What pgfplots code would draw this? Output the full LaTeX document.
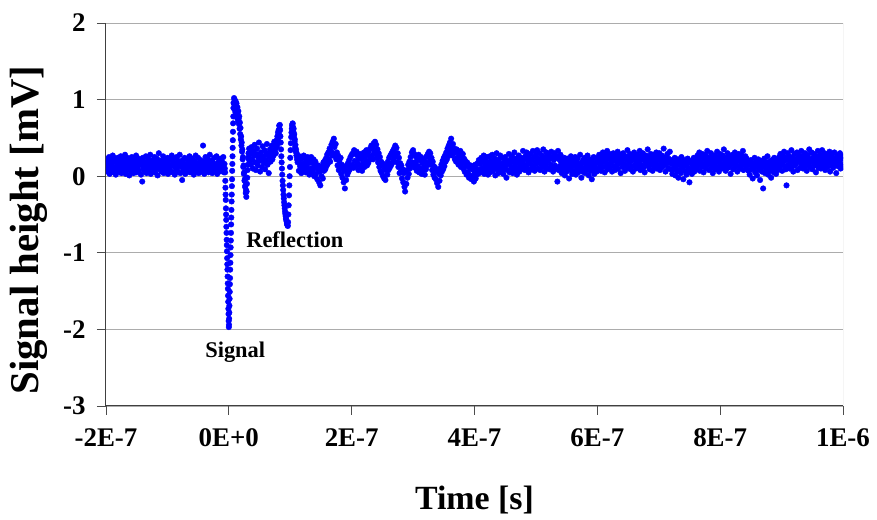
\documentclass[border=0pt]{standalone}
\usepackage{fontspec}
\setmainfont{Liberation Serif}
\usepackage{pgfplots}
\pgfplotsset{compat=1.18}
\begin{document}
\begin{tikzpicture}
\begin{axis}[
  scale only axis, width=737bp, height=383bp,
  xmin=-200, xmax=1000, ymin=-3, ymax=2,
  axis x line*=bottom, axis y line*=left,
  xtick={-200,0,200,400,600,800,1000},
  xticklabels={-2E-7,0E+0,2E-7,4E-7,6E-7,8E-7,1E-6},
  ytick={-3,-2,-1,0,1,2},
  yticklabels={-3,-2,-1,0,1,2},
  tick align=outside, major tick length=9bp,
  tick style={black!70, line width=0.8bp},
  axis line style={black!75, line width=1bp},
  ymajorgrids, major grid style={gray!65, line width=0.8bp},
  ticklabel style={font=\fontsize{27}{32}\selectfont\bfseries},
  xticklabel style={yshift=-10bp},
  yticklabel style={xshift=-8bp},
  /pgf/number format/assume math mode=true,
  clip marker paths=true,
]
\draw[gray!65, line width=0.8bp] (rel axis cs:1,0) -- (rel axis cs:1,1);
\addplot[only marks, mark=*, mark size=2.8bp, blue, mark options={draw=none, fill=blue}] table[row sep=\\] {
x y\\
-200 0.15\\-199 0.22\\-198 0.06\\-197 0.18\\-196 0.10\\-195 0.25\\-194 0.03\\-193 0.16\\-192 0.21\\-191 0.08\\
-190 0.13\\-189 0.27\\-188 0.05\\-187 0.19\\-186 0.11\\-185 0.23\\-184 0.02\\-183 0.17\\-182 0.09\\-181 0.24\\
-180 0.14\\-179 0.06\\-178 0.20\\-177 0.12\\-176 0.26\\-175 0.04\\-174 0.18\\-173 0.10\\-172 0.22\\-171 0.07\\
-170 0.15\\-169 0.28\\-168 0.03\\-167 0.19\\-166 0.12\\-165 0.24\\-164 0.08\\-163 0.16\\-162 0.01\\-161 0.21\\
-160 0.13\\-159 0.06\\-158 0.25\\-157 0.11\\-156 0.17\\-155 0.04\\-154 0.22\\-153 0.14\\-152 0.09\\-151 0.27\\
-150 0.05\\-149 0.18\\-148 0.12\\-147 0.23\\-146 0.07\\-145 0.15\\-144 0.20\\-143 0.02\\-142 0.16\\-141 -0.07\\
-140 0.24\\-139 0.10\\-138 0.19\\-137 0.06\\-136 0.13\\-135 0.26\\-134 0.04\\-133 0.17\\-132 0.11\\-131 0.22\\
-130 0.08\\-129 0.15\\-128 0.28\\-127 0.03\\-126 0.18\\-125 0.12\\-124 0.21\\-123 0.07\\-122 0.14\\-121 0.25\\
-120 0.05\\-119 0.19\\-118 0.10\\-117 0.23\\-116 0.01\\-115 0.16\\-114 0.30\\-113 0.09\\-112 0.13\\-111 0.20\\
-110 0.06\\-109 0.17\\-108 0.11\\-107 0.26\\-106 0.04\\-105 0.15\\-104 0.21\\-103 0.08\\-102 0.18\\-101 0.12\\
-100 0.24\\-99 0.03\\-98 0.16\\-97 0.10\\-96 0.22\\-95 0.07\\-94 0.14\\-93 0.27\\-92 0.05\\-91 0.19\\
-90 0.13\\-89 0.23\\-88 0.02\\-87 0.17\\-86 0.09\\-85 0.25\\-84 0.11\\-83 0.06\\-82 0.20\\-81 0.14\\
-80 0.28\\-79 0.04\\-78 0.18\\-77 0.12\\-76 -0.05\\-75 0.21\\-74 0.08\\-73 0.16\\-72 0.24\\-71 0.03\\
-70 0.15\\-69 0.10\\-68 0.22\\-67 0.06\\-66 0.19\\-65 0.13\\-64 0.26\\-63 0.05\\-62 0.17\\-61 0.11\\
-60 0.23\\-59 0.08\\-58 0.14\\-57 0.02\\-56 0.20\\-55 0.12\\-54 0.27\\-53 0.07\\-52 0.16\\-51 0.10\\
-50 0.24\\-49 0.04\\-48 0.18\\-47 0.13\\-46 0.21\\-45 0.06\\-44 0.15\\-43 0.09\\-42 0.40\\-41 0.19\\
-40 0.03\\-39 0.14\\-38 0.25\\-37 0.08\\-36 0.17\\-35 0.11\\-34 0.22\\-33 0.05\\-32 0.16\\-31 0.28\\
-30 0.09\\-29 0.13\\-28 0.20\\-27 0.04\\-26 0.18\\-25 0.12\\-24 0.24\\-23 0.07\\-22 0.15\\-21 0.10\\
-20 0.26\\-19 0.03\\-18 0.17\\-17 0.11\\-16 0.21\\-15 0.06\\-14 0.14\\-13 0.23\\-12 0.08\\-11 0.19\\
-10 0.12\\-9 0.25\\-8 0.05\\-7 0.16\\-6.5 0.10\\
-6 0.05\\-5.75 -0.06\\-5.5 -0.15\\-5.25 -0.24\\-5 -0.31\\-4.75 -0.42\\-4.5 -0.50\\-4.25 -0.57\\-4 -0.66\\-3.75 -0.74\\
-3.5 -0.83\\-3.25 -0.90\\-3 -0.98\\-2.75 -1.07\\-2.5 -1.15\\-2.25 -1.22\\-2 -1.31\\-1.75 -1.40\\-1.5 -1.47\\-1.25 -1.56\\
-1 -1.64\\-0.75 -1.73\\-0.5 -1.80\\-0.25 -1.89\\0 -1.97\\0.25 -1.94\\0.5 -1.86\\0.75 -1.78\\1 -1.69\\1.25 -1.60\\
1.5 -1.51\\1.75 -1.41\\2 -1.33\\2.25 -1.22\\2.5 -1.13\\2.75 -1.03\\3 -0.93\\3.25 -0.84\\3.5 -0.74\\3.75 -0.63\\
4 -0.54\\4.25 -0.44\\4.5 -0.33\\4.75 -0.24\\5 -0.13\\5.25 -0.04\\5.5 0.07\\5.75 0.16\\6 0.26\\6.25 0.37\\
6.5 0.47\\6.75 0.58\\7 0.69\\7.25 0.78\\7.5 0.89\\7.75 0.96\\
8 0.95\\8.5 1.02\\9 0.88\\9.5 1.00\\10 0.93\\10.5 0.84\\11 0.98\\11.5 0.90\\12 0.80\\12.5 0.95\\
13 0.86\\13.5 0.76\\14 0.90\\14.5 0.82\\15 0.72\\15.5 0.85\\16 0.75\\16.5 0.68\\17 0.78\\17.5 0.62\\
18 0.70\\18.5 0.55\\19 0.63\\19.5 0.48\\20 0.52\\20.5 0.40\\21 0.44\\21.5 0.32\\22 0.35\\22.5 0.22\\
23 0.25\\23.5 0.12\\24 0.14\\24.5 0.03\\25 0.05\\25.5 -0.06\\26 -0.04\\26.5 -0.14\\27 -0.12\\27.5 -0.22\\
28 -0.18\\28.5 -0.27\\29 -0.20\\29.5 -0.10\\30 -0.02\\30.5 0.08\\31 0.15\\31.5 0.24\\32 0.30\\32.5 0.22\\
33 0.36\\33.5 0.28\\34 0.20\\
35 0.30\\36 0.15\\37 0.38\\38 0.22\\39 0.10\\40 0.33\\41 0.27\\42 0.41\\43 0.18\\44 0.08\\
45 0.29\\46 0.36\\47 0.14\\48 0.24\\49 0.44\\50 0.20\\51 0.06\\52 0.31\\53 0.26\\54 0.12\\
55 0.39\\56 0.23\\57 0.17\\58 0.34\\59 0.09\\60 0.28\\61 0.21\\62 0.42\\63 0.15\\64 0.30\\
65 0.04\\66 0.25\\67 0.35\\68 0.19\\69 0.29\\70 0.40\\71 0.22\\72 0.33\\73 0.27\\74 0.45\\
75 0.31\\76 0.36\\76.5 0.30\\77 0.44\\77.5 0.38\\78 0.47\\78.5 0.40\\79 0.52\\79.5 0.45\\80 0.57\\
80.5 0.50\\81 0.60\\81.5 0.55\\82 0.66\\82.5 0.62\\83 0.67\\83.5 0.60\\84 0.52\\84.5 0.44\\85 0.35\\
85.5 0.26\\86 0.18\\86.5 0.10\\87 0.02\\87.5 -0.06\\88 -0.12\\88.5 -0.18\\89 -0.24\\89.5 -0.29\\90 -0.34\\
90.5 -0.38\\91 -0.42\\91.5 -0.46\\92 -0.49\\92.5 -0.52\\93 -0.55\\93.5 -0.57\\94 -0.59\\94.5 -0.61\\95 -0.63\\
95.5 -0.64\\96 -0.65\\96.5 -0.60\\97 -0.50\\97.5 -0.38\\98 -0.25\\98.5 -0.12\\99 0.00\\99.5 0.12\\100 0.24\\
100.5 0.34\\101 0.43\\101.5 0.51\\102 0.57\\102.5 0.62\\103 0.66\\103.5 0.68\\104 0.69\\104.5 0.64\\105 0.58\\
105.5 0.62\\106 0.52\\106.5 0.55\\107 0.45\\107.5 0.48\\108 0.38\\108.5 0.41\\109 0.32\\109.5 0.35\\110 0.27\\
110.5 0.30\\111 0.22\\111.5 0.26\\112 0.18\\
113 0.20\\114 0.07\\115 0.26\\116 0.13\\117 0.22\\118 0.04\\119 0.16\\120 0.24\\121 0.09\\122 0.27\\
123 0.11\\124 0.18\\125 0.05\\126 0.23\\127 0.14\\128 0.25\\129 0.08\\130 0.18\\
131 0.02\\132 0.21\\133 0.10\\134 0.25\\135 0.05\\136 0.17\\137 0.08\\138 0.22\\139 0.00\\140 0.13\\
141 0.19\\142 0.03\\143 0.12\\144 -0.04\\145 0.09\\146 0.14\\147 -0.08\\148 0.06\\149 -0.12\\150 0.10\\
151 0.00\\152 0.13\\153 -0.03\\154 0.18\\155 0.07\\156 0.20\\157 0.09\\158 0.23\\159 0.13\\160 0.28\\
161 0.16\\162 0.31\\163 0.22\\164 0.36\\165 0.19\\166 0.33\\167 0.41\\168 0.27\\169 0.45\\170 0.30\\
171 0.49\\172 0.38\\173 0.26\\174 0.42\\175 0.22\\176 0.31\\177 0.14\\178 0.27\\179 0.08\\180 0.20\\
181 0.10\\182 0.24\\183 0.03\\184 0.15\\185 -0.02\\186 0.12\\187 -0.08\\188 0.07\\189 -0.16\\190 0.08\\
191 -0.05\\192 0.14\\193 0.02\\194 0.17\\195 0.06\\196 0.21\\197 0.09\\198 0.25\\199 0.12\\200 0.28\\
201 0.15\\202 0.30\\203 0.11\\204 0.34\\205 0.20\\206 0.29\\207 0.13\\208 0.32\\209 0.18\\210 0.26\\
211 0.08\\212 0.24\\213 0.15\\214 0.29\\215 0.10\\216 0.22\\217 0.07\\218 0.27\\219 0.16\\220 0.31\\
221 0.12\\222 0.25\\223 0.19\\224 0.34\\225 0.14\\226 0.28\\227 0.17\\228 0.33\\229 0.21\\230 0.36\\
231 0.24\\232 0.40\\233 0.27\\234 0.37\\235 0.22\\236 0.43\\237 0.31\\238 0.45\\239 0.29\\240 0.41\\
241 0.24\\242 0.35\\243 0.18\\244 0.30\\245 0.12\\246 0.25\\247 0.07\\248 0.19\\249 0.04\\250 0.17\\
251 0.00\\252 0.14\\253 -0.03\\254 0.10\\255 -0.05\\256 0.08\\257 0.15\\258 0.02\\259 0.19\\260 0.08\\
261 0.24\\262 0.11\\263 0.27\\264 0.14\\265 0.30\\266 0.17\\267 0.33\\268 0.21\\269 0.36\\270 0.25\\
271 0.40\\272 0.29\\273 0.37\\274 0.18\\275 0.30\\276 0.12\\277 0.24\\278 0.04\\279 0.17\\280 0.06\\
281 0.14\\282 -0.03\\283 0.09\\284 -0.08\\285 0.04\\286 -0.14\\287 -0.20\\288 0.06\\289 -0.10\\290 0.08\\
291 -0.02\\292 0.15\\293 0.03\\294 0.19\\295 0.10\\296 0.25\\297 0.14\\298 0.31\\299 0.18\\300 0.34\\
301 0.16\\302 0.29\\303 0.11\\304 0.26\\305 0.19\\306 0.07\\307 0.24\\308 0.13\\309 0.28\\310 0.05\\
311 0.21\\312 0.10\\313 0.25\\314 0.03\\315 0.17\\316 0.08\\317 0.22\\318 0.12\\319 0.02\\320 0.19\\
321 0.09\\322 0.26\\323 0.14\\324 0.29\\325 0.17\\326 0.32\\327 0.23\\328 0.30\\329 0.15\\330 0.24\\
331 0.08\\332 0.19\\333 0.02\\334 0.13\\335 -0.02\\336 0.11\\337 -0.04\\338 0.07\\339 -0.09\\340 0.06\\
341 -0.14\\342 0.03\\343 -0.06\\344 0.10\\345 0.01\\346 0.15\\347 0.06\\348 0.20\\349 0.09\\350 0.24\\
351 0.13\\352 0.27\\353 0.19\\354 0.31\\355 0.22\\356 0.36\\357 0.26\\358 0.40\\359 0.30\\360 0.44\\
361 0.34\\362 0.49\\363 0.38\\364 0.27\\365 0.42\\366 0.30\\367 0.36\\368 0.22\\369 0.33\\370 0.19\\
371 0.35\\372 0.24\\373 0.31\\374 0.15\\375 0.28\\376 0.20\\377 0.33\\378 0.12\\379 0.26\\380 0.17\\
381 0.29\\382 0.10\\383 0.23\\384 0.06\\385 0.20\\386 0.13\\387 0.02\\388 0.18\\389 0.05\\390 0.15\\
391 -0.02\\392 0.11\\393 0.01\\394 0.14\\395 -0.04\\396 0.09\\397 0.00\\398 0.12\\399 -0.07\\400 0.06\\
401 0.15\\402 -0.03\\403 0.10\\404 0.02\\405 0.17\\406 0.07\\407 0.21\\408 0.04\\409 0.16\\410 0.09\\
411 0.24\\412 0.06\\413 0.19\\414 0.11\\415 0.27\\416 0.03\\417 0.16\\418 0.21\\419 0.08\\420 0.25\\
421 0.13\\422 0.02\\423 0.18\\424 0.10\\425 0.26\\426 0.05\\427 0.20\\428 0.14\\429 0.28\\430 0.07\\
431 0.17\\432 0.12\\433 0.23\\434 0.01\\435 0.15\\436 0.30\\437 0.09\\438 0.19\\439 0.04\\440 0.22\\
441 0.13\\442 0.27\\443 0.06\\444 0.16\\445 0.11\\446 0.24\\447 0.03\\448 0.18\\449 0.09\\450 0.25\\
451 0.14\\452 -0.02\\453 0.20\\454 0.08\\455 0.17\\456 0.29\\457 0.05\\458 0.15\\459 0.22\\460 0.10\\
461 0.26\\462 0.04\\463 0.19\\464 0.12\\465 0.31\\466 0.07\\467 0.16\\468 0.23\\469 0.02\\470 0.18\\
471 0.11\\472 0.27\\473 0.06\\474 0.21\\475 0.14\\476 0.24\\477 0.09\\478 0.17\\479 0.33\\480 0.12\\
481 0.22\\482 0.08\\483 0.26\\484 0.15\\485 0.31\\486 0.11\\487 0.20\\488 0.05\\489 0.24\\490 0.17\\
491 0.29\\492 0.09\\493 0.21\\494 0.14\\495 0.33\\496 0.12\\497 0.25\\498 0.07\\499 0.19\\500 0.28\\
501 0.16\\502 0.34\\503 0.10\\504 0.23\\505 0.18\\506 0.30\\507 0.08\\508 0.22\\509 0.15\\510 0.27\\
511 0.12\\512 0.35\\513 0.19\\514 0.06\\515 0.24\\516 0.16\\517 0.31\\518 0.11\\519 0.26\\520 0.20\\
521 0.29\\522 0.09\\523 0.23\\524 0.15\\525 0.32\\526 0.12\\527 0.25\\528 0.06\\529 0.21\\530 0.30\\
531 0.14\\532 0.27\\533 0.10\\534 0.24\\535 -0.07\\536 0.33\\537 0.08\\538 0.22\\539 0.13\\540 0.28\\
541 0.18\\542 0.04\\543 0.21\\544 0.09\\545 0.15\\546 0.24\\547 0.01\\548 0.13\\549 0.19\\550 0.06\\
551 0.23\\552 0.10\\553 0.16\\554 -0.03\\555 0.20\\556 0.08\\557 0.26\\558 0.12\\559 0.03\\560 0.17\\
561 0.22\\562 0.07\\563 0.14\\564 0.25\\565 0.02\\566 0.19\\567 0.11\\568 0.23\\569 0.05\\570 0.16\\
571 0.09\\572 0.28\\573 0.13\\574 -0.02\\575 0.18\\576 0.06\\577 0.21\\578 0.10\\579 0.24\\580 0.04\\
581 0.15\\582 0.20\\583 0.08\\584 0.27\\585 0.12\\586 0.01\\587 0.17\\588 0.22\\589 0.07\\590 0.14\\
591 -0.04\\592 0.19\\593 0.09\\594 0.25\\595 0.03\\596 0.16\\597 0.11\\598 0.23\\599 0.06\\600 0.18\\
601 0.24\\602 0.10\\603 0.28\\604 0.15\\605 0.21\\606 0.07\\607 0.26\\608 0.18\\609 0.31\\610 0.12\\
611 0.22\\612 0.05\\613 0.19\\614 0.27\\615 0.14\\616 0.33\\617 0.09\\618 0.23\\619 0.16\\620 0.29\\
621 0.11\\622 0.25\\623 0.18\\624 0.06\\625 0.21\\626 0.30\\627 0.13\\628 0.24\\629 0.08\\630 0.20\\
631 0.27\\632 0.15\\633 0.32\\634 0.10\\635 0.22\\636 0.17\\637 0.28\\638 0.04\\639 0.19\\640 0.25\\
641 0.12\\642 0.30\\643 0.16\\644 0.23\\645 0.07\\646 0.26\\647 0.14\\648 0.21\\649 0.34\\650 0.11\\
651 0.24\\652 0.18\\653 0.29\\654 0.09\\655 0.20\\656 0.13\\657 0.27\\658 0.06\\659 0.22\\660 0.31\\
661 0.15\\662 0.25\\663 0.10\\664 0.19\\665 0.28\\666 0.12\\667 0.23\\668 0.17\\669 0.33\\670 0.08\\
671 0.21\\672 0.26\\673 0.14\\674 0.30\\675 0.11\\676 0.24\\677 0.05\\678 0.19\\679 0.27\\680 0.16\\
681 0.22\\682 0.35\\683 0.13\\684 0.25\\685 0.09\\686 0.20\\687 0.29\\688 0.15\\689 0.23\\690 0.07\\
691 0.18\\692 0.28\\693 0.12\\694 0.24\\695 0.17\\696 0.31\\697 0.10\\698 0.21\\699 0.26\\700 0.14\\
701 0.30\\702 0.08\\703 0.22\\704 0.18\\705 0.27\\706 0.12\\707 0.24\\708 0.36\\709 0.15\\710 0.20\\
711 0.06\\712 0.25\\713 0.17\\714 0.29\\715 0.11\\716 0.23\\717 0.19\\718 0.32\\719 0.09\\720 0.21\\
721 0.16\\722 0.03\\723 0.20\\724 0.09\\725 0.14\\726 0.24\\727 0.01\\728 0.12\\729 0.18\\730 0.06\\
731 0.22\\732 -0.02\\733 0.15\\734 0.08\\735 0.19\\736 0.04\\737 0.25\\738 0.11\\739 0.16\\740 -0.04\\
741 0.13\\742 0.21\\743 0.07\\744 0.17\\745 0.02\\746 0.14\\747 0.23\\748 0.05\\749 0.10\\750 -0.08\\
751 0.18\\752 0.09\\753 0.20\\754 0.03\\755 0.15\\756 0.11\\757 0.24\\758 0.06\\759 0.13\\760 0.19\\
761 0.23\\762 0.09\\763 0.27\\764 0.14\\765 0.20\\766 0.31\\767 0.07\\768 0.18\\769 0.25\\770 0.12\\
771 0.29\\772 0.16\\773 0.05\\774 0.22\\775 0.13\\776 0.28\\777 0.10\\778 0.19\\779 0.33\\780 0.15\\
781 0.24\\782 0.08\\783 0.21\\784 0.17\\785 0.30\\786 0.11\\787 0.26\\788 0.04\\789 0.20\\790 0.14\\
791 0.27\\792 0.09\\793 0.23\\794 0.18\\795 0.32\\796 0.12\\797 0.25\\798 0.06\\799 0.19\\800 0.29\\
801 0.15\\802 0.22\\803 0.10\\804 0.27\\805 0.16\\806 0.35\\807 0.13\\808 0.21\\809 0.07\\810 0.24\\
811 0.18\\812 0.30\\813 0.11\\814 0.20\\815 0.26\\816 0.14\\817 0.03\\818 0.23\\819 0.17\\820 0.28\\
821 0.09\\822 0.21\\823 0.15\\824 0.31\\825 0.12\\826 0.25\\827 0.19\\828 0.06\\829 0.22\\830 0.29\\
831 0.13\\832 0.24\\833 0.10\\834 0.18\\835 0.27\\836 0.15\\837 0.33\\838 0.08\\839 0.21\\840 0.17\\
841 0.26\\842 0.11\\843 0.23\\844 0.14\\845 0.20\\846 0.07\\847 0.18\\848 0.02\\849 0.15\\850 0.21\\
851 0.09\\852 0.13\\853 -0.03\\854 0.17\\855 0.10\\856 0.24\\857 0.05\\858 0.14\\859 0.19\\860 0.01\\
861 0.12\\862 0.22\\863 0.08\\864 0.16\\865 -0.05\\866 0.11\\867 0.20\\868 0.06\\869 0.15\\870 -0.16\\
871 0.13\\872 0.23\\873 0.04\\874 0.18\\875 0.09\\876 0.14\\877 0.26\\878 0.02\\879 0.12\\880 0.19\\
881 0.07\\882 0.16\\883 -0.02\\884 0.21\\885 0.10\\886 0.15\\887 0.05\\888 0.24\\889 0.11\\890 0.17\\
891 0.03\\892 0.20\\893 0.13\\894 0.08\\895 0.18\\896 0.25\\897 0.11\\898 0.29\\899 0.16\\900 0.22\\
901 0.07\\902 0.27\\903 0.19\\904 0.32\\905 0.13\\906 0.24\\907 0.09\\908 -0.12\\909 0.21\\910 0.30\\
911 0.15\\912 0.26\\913 0.10\\914 0.23\\915 0.18\\916 0.34\\917 0.12\\918 0.25\\919 0.06\\920 0.20\\
921 0.29\\922 0.14\\923 0.22\\924 0.17\\925 0.31\\926 0.08\\927 0.24\\928 0.19\\929 0.27\\930 0.11\\
931 0.21\\932 0.33\\933 0.15\\934 0.26\\935 0.10\\936 0.23\\937 0.18\\938 0.30\\939 0.13\\940 0.25\\
941 0.07\\942 0.20\\943 0.28\\944 0.16\\945 0.35\\946 0.12\\947 0.22\\948 0.19\\949 0.31\\950 0.09\\
951 0.24\\952 0.17\\953 0.29\\954 0.14\\955 0.21\\956 0.05\\957 0.26\\958 0.18\\959 0.33\\960 0.11\\
961 0.23\\962 0.16\\963 0.28\\964 0.10\\965 0.20\\966 0.34\\967 0.13\\968 0.25\\969 0.19\\970 0.30\\
971 0.08\\972 0.22\\973 0.15\\974 0.27\\975 0.12\\976 0.24\\977 0.18\\978 0.32\\979 0.06\\980 0.21\\
981 0.29\\982 0.14\\983 0.25\\984 0.11\\985 0.20\\986 0.31\\987 0.16\\988 0.23\\989 0.04\\990 0.19\\
991 0.27\\992 0.13\\993 0.24\\994 0.18\\995 0.30\\996 0.10\\997 0.22\\998 0.15\\999 0.26\\1000 0.12\\
};
\node[anchor=base west, font=\fontsize{22.5}{27}\selectfont\bfseries] at (axis cs:22.8,-0.927) {Reflection};
\node[anchor=base west, font=\fontsize{22.5}{27}\selectfont\bfseries] at (axis cs:-44,-2.363) {Signal};
\end{axis}
\node[rotate=90, anchor=base, font=\fontsize{41}{48}\selectfont\bfseries] at ([xshift=-67bp,yshift=-15.5bp]current axis.west) {Signal height [mV]};
\node[anchor=base, font=\fontsize{34}{40}\selectfont\bfseries] at ([yshift=-104bp]current axis.south) {Time [s]};
\pgfresetboundingbox
\path[use as bounding box] ([shift={(-106bp,-114bp)}]current axis.south west) rectangle ([shift={(34bp,23bp)}]current axis.north east);
\end{tikzpicture}
\end{document}
